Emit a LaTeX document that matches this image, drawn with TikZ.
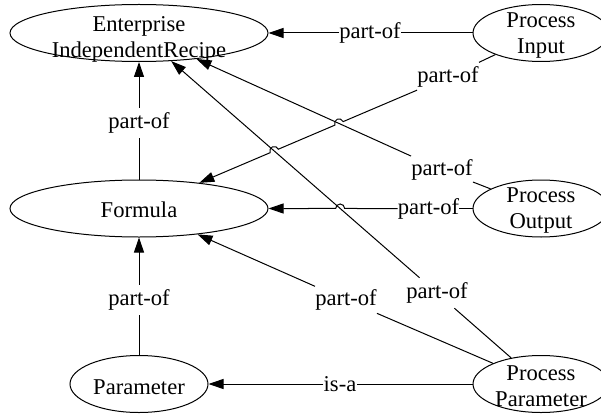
\documentclass[tikz,border=0pt]{standalone}
\usepackage{fontspec}
\setmainfont{Liberation Serif}
\usetikzlibrary{shapes.geometric, arrows.meta, calc}
\begin{document}
\begin{tikzpicture}[x=1pt, y=1pt,
  every node/.style={font=\fontsize{22.6}{26}\selectfont},
  concept/.style={draw, ellipse, line width=1pt, minimum height=57pt, inner sep=0pt},
  widebox/.style={concept, minimum width=258pt},
  midbox/.style={concept, minimum width=138pt},
  sidebox/.style={concept, minimum width=136pt},
  ctext/.style={align=center, inner sep=0pt},
  rel/.style={inner xsep=0pt, inner ysep=0pt, minimum height=30pt},
  link/.style={line width=1pt},
  edge/.style={line width=1pt, -{Triangle[length=15pt, width=10pt]}},
]
\useasboundingbox (0,0) rectangle (601,413);

% concepts
\node[widebox] (eir) at (139,380) {};
\node[ctext] (eirT) at (139,374) {Enterprise\\IndependentRecipe};
\node[sidebox] (pi) at (541,380) {};
\node[ctext] (piT) at (541,377.5) {Process\\Input};
\node[widebox] (formula) at (139,204.5) {};
\node[ctext] (formulaT) at (139,203.5) {Formula};
\node[sidebox] (po) at (541,204.5) {};
\node[ctext] (poT) at (541,202.5) {Process\\Output};
\node[midbox] (param) at (139,29) {};
\node[ctext] (paramT) at (139,26) {Parameter};
\node[sidebox] (pp) at (541,29) {};
\node[ctext] (ppT) at (541,26.5) {Process\\Parameter};

% relation labels
\node[rel] (l1) at (370,380) {part-of};
\node[rel] (l2) at (448,336) {part-of};
\node[rel] (l3) at (139,290) {part-of};
\node[rel] (l4) at (442,243) {part-of};
\node[rel] (l5) at (428.5,204.5) {part-of};
\node[rel] (l6) at (139,113) {part-of};
\node[rel] (l7) at (346,113) {part-of};
\node[rel] (l8) at (437,120) {part-of};
\node[rel] (l9) at (340,29) {is-a};

% crossing points where a line hops over another
\coordinate (hA) at (intersection of l2--formula and l4--eir);
\coordinate (hB) at (intersection of l2--formula and l8--eir);
\coordinate (hC) at (intersection of l5--formula and l8--eir);

% Process Input
\draw[link] (pi) -- (l1);
\draw[edge] (l1) -- (eir);
\draw[link] (pi) -- (l2);
\draw[edge] let \p1 = ($(l2)-(formula)$), \n1 = {atan2(\y1,\x1)} in
  (l2) -- ($(hA)!4.5pt!(l2)$) arc[start angle=\n1, delta angle=180, radius=4.5pt]
  -- ($(hB)!4.5pt!(l2)$) arc[start angle=\n1, delta angle=180, radius=4.5pt]
  -- (formula);

% Formula
\draw[link] (formula) -- (l3);
\draw[edge] (l3) -- (eir);

% Process Output
\draw[link] (po) -- (l4);
\draw[edge] (l4) -- (eir);
\draw[link] (po) -- (l5);
\draw[edge] (l5) -- ($(hC)!4.5pt!(l5)$) arc[start angle=0, delta angle=180, radius=4.5pt]
  -- (formula);

% Parameter
\draw[link] (param) -- (l6);
\draw[edge] (l6) -- (formula);

% Process Parameter
\draw[link] (pp) -- (l7);
\draw[edge] (l7) -- (formula);
\draw[link] (pp) -- (l8);
\draw[edge] (l8) -- (eir);
\draw[link] (pp) -- (l9);
\draw[edge] (l9) -- (param);
\end{tikzpicture}
\end{document}
